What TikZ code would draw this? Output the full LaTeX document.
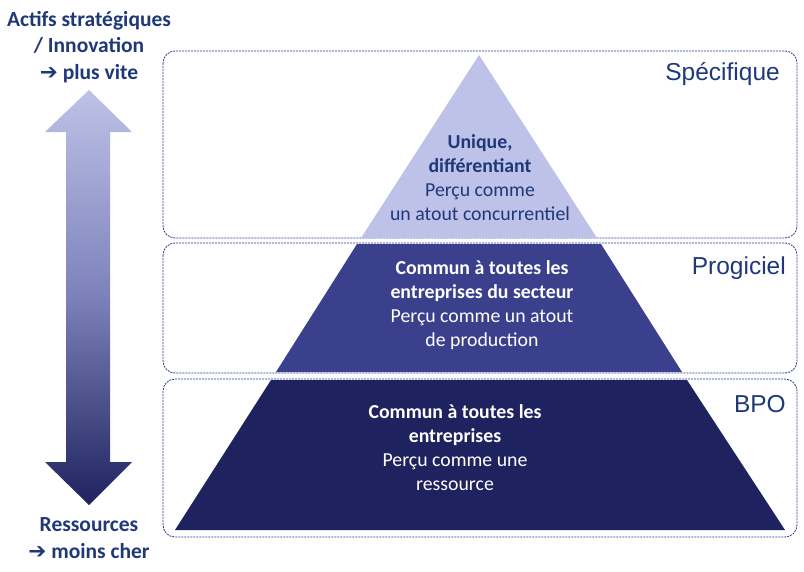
\documentclass[tikz,border=0pt]{standalone}
\usepackage{fontspec}
\setmainfont{Carlito}
\newfontfamily\arialfont{Liberation Sans}
\newfontfamily\symfont{DejaVu Sans}
\usepackage{xcolor}
\usetikzlibrary{calc}
\definecolor{navy}{RGB}{31,56,120}
\definecolor{lavender}{RGB}{190,194,232}
\definecolor{midblue}{RGB}{58,64,140}
\definecolor{darkblue}{RGB}{30,34,94}
\definecolor{boxline}{RGB}{40,52,150}
\tikzset{
    layerbox/.style={draw=boxline, dash pattern=on 2pt off 1pt, line width=0.8pt, rounded corners=12pt},
    layername/.style={anchor=east, inner sep=0pt, text=navy, font=\arialfont\fontsize{24.5}{24.5}\selectfont},
    layertext/.style={align=center, inner sep=0pt, font=\fontsize{19.8}{24}\selectfont},
    sidetext/.style={align=center, inner sep=0pt, text=navy, font=\bfseries\fontsize{21.5}{26.5}\selectfont}}

\begin{document}
\begin{tikzpicture}[x=1pt,y=-1pt]
\useasboundingbox (0,0) rectangle (804,571);

% side arrow
\draw[draw=none, top color=lavender, bottom color=darkblue, middle color=midblue!50!lavender]
  (89,90) -- (132,132) -- (110,132) -- (110,462) -- (132,462) -- (89,505)
  -- (45,462) -- (66,462) -- (66,132) -- (45,132) -- cycle;

\node[sidetext] (fast) at (89,47) {Actifs stratégiques\\/ Innovation\\{\symfont ➔} plus vite};
\node[sidetext] (cheap) at (89,538) {Ressources\\{\symfont ➔} moins cher};

% boxes
\draw[layerbox] (163,51) rectangle (797,238);
\draw[layerbox] (163,243) rectangle (797,373);
\draw[layerbox] (163,379) rectangle (797,537);

% pyramid
\coordinate (apex) at (479,55) ;
\coordinate (T1) at (361,238) ;
\coordinate (T2) at (597,238) ;
\coordinate (M1) at (357,244) ;
\coordinate (M2) at (601,244) ;
\coordinate (M3) at (276,372) ;
\coordinate (M4) at (682,372) ;
\coordinate (B1) at (271,380) ;
\coordinate (B2) at (687,380) ;
\coordinate (B3) at (175,530) ;
\coordinate (B4) at (785,530) ;

\fill[lavender] (apex) -- (T2) -- (T1) -- cycle;
\fill[midblue] (M1) -- (M2) -- (M4) -- (M3) -- cycle;
\fill[darkblue] (B1) -- (B2) -- (B4) -- (B3) -- cycle;
%\draw[white!60!midblue] (M1) -- (M3);

\node[layername] (spec) at (780,74) {Spécifique};
\node[layername] (prog) at (786,268) {Progiciel};
\node[layername] (bpo) at (786,404) {BPO};

\node[layertext, text=navy] (toptext) at (480,177.5)
  {\textbf{Unique,}\\\textbf{différentiant}\\Perçu comme\\un atout concurrentiel};
\node[layertext, text=white] (midtext) at (482,305.5)
  {\textbf{Commun à toutes les}\\\textbf{entreprises du secteur}\\Perçu comme un atout\\de production};
\node[layertext, text=white] (bottext) at (455,447.5)
  {\textbf{Commun à toutes les}\\\textbf{entreprises}\\Perçu comme une\\ressource};
\end{tikzpicture}
\end{document}
